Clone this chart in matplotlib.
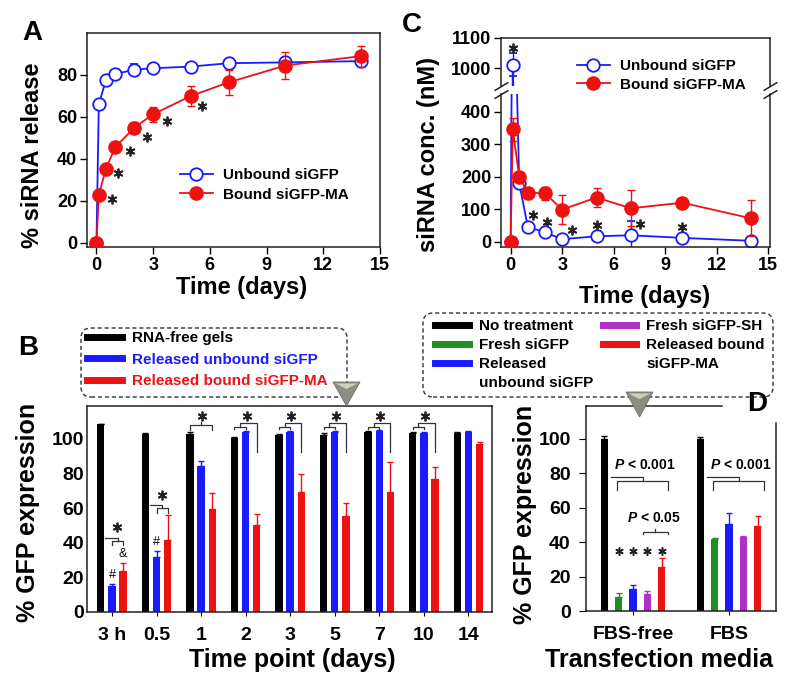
import numpy as np
import matplotlib
matplotlib.use('Agg')
import matplotlib.pyplot as plt
from matplotlib.patches import FancyBboxPatch, Polygon
from matplotlib.lines import Line2D
from matplotlib.transforms import IdentityTransform

plt.rcParams['font.family'] = ['Liberation Sans', 'DejaVu Sans']
plt.rcParams['font.weight'] = 'bold'
plt.rcParams['axes.linewidth'] = 1.1
plt.rcParams['axes.edgecolor'] = '#222222'
plt.rcParams['mathtext.fontset'] = 'custom'
plt.rcParams['mathtext.it'] = 'Liberation Sans:italic:bold'
plt.rcParams['mathtext.rm'] = 'Liberation Sans:bold'

W, H = 789, 682

# --- Panel A: cumulative siRNA release
t_days = [0, 0.125, 0.5, 1, 2, 3, 5, 7, 10, 14]
unbound_rel = [0, 66, 77.6, 80.5, 82.5, 83.2, 84, 85.6, 86, 86.6]
unbound_rel_err = [0, 1, 1.5, 1.5, 2.5, 2, 1.5, 1.5, 1.5, 1.5]
bound_rel = [0, 22.8, 35.4, 45.6, 54.9, 61.3, 70, 76.5, 84.5, 89]
bound_rel_err = [0, 1.5, 1.5, 2, 2.5, 3.5, 4.6, 6, 6.6, 5]
star_a_t = [0.83, 1.14, 1.76, 2.7, 3.74, 5.6]
star_a_y = [20.8, 33.3, 43.7, 50.6, 58, 65]

# --- Panel C: siRNA concentration (nM)
unbound_conc = [0, 1012, 180, 46, 29, 8, 17, 20, 12, 3]
unbound_conc_err = [0, 38, 10, 8, 6, 4, 5, 45, 5, 3]
bound_conc = [0, 345, 200, 151, 149, 99, 136, 103, 120, 72]
bound_conc_err = [0, 35, 15, 15, 20, 45, 30, 55, 8, 55]
star_c_t = [0.125, 1.32, 2.1, 3.55, 5.0, 7.53, 10.0]
star_c_y = [1068, 82, 61, 36, 51, 54, 46]

# --- Panel B: GFP expression by time point
b_labels = ['3 h', '0.5', '1', '2', '3', '5', '7', '10', '14']
rna_free = [108.5, 103, 103, 100.5, 102, 102.5, 104, 103.5, 103.5]
rna_free_err = [0, 0.5, 0.8, 0.5, 0.8, 0.8, 0.5, 0.5, 0.5]
rel_unbound = [15.2, 32, 84.5, 104, 104, 104.2, 104.8, 103.5, 104.2]
rel_unbound_err = [1, 3.3, 2.9, 0.5, 0.5, 0.5, 0.5, 0.5, 0.3]
rel_bound = [23.5, 41.5, 59.3, 50.2, 69.3, 55.4, 69.1, 76.7, 97]
rel_bound_err = [5, 14.5, 9.7, 6.4, 10.4, 7.4, 17.8, 6.9, 1]

# --- Panel D: GFP expression by transfection media
d_labels = ['FBS-free', 'FBS']
no_treat = [100, 100]
no_treat_err = [1.5, 1]
fresh_sigfp = [8.3, 42]
fresh_sigfp_err = [2, 0.5]
d_unbound = [13, 50.5]
d_unbound_err = [2, 6.5]
fresh_sh = [10, 43]
fresh_sh_err = [1.6, 0.5]
d_bound = [25.7, 49.5]
d_bound_err = [4.8, 5.5]

BLUE = '#1a1aff'
RED = '#ee1111'
GREEN = '#1f8f1f'
PURPLE = '#b030c8'
LINE = '#333333'


def fig_rect(l, t, r, b):
    return [l / W, 1 - b / H, (r - l) / W, (b - t) / H]


def fx(x):
    return x / W


def fy(y):
    return 1 - y / H


fig = plt.figure(figsize=(W / 100, H / 100), dpi=100)

# ---------------- A ----------------
axA = fig.add_axes(fig_rect(87, 33, 380, 247))
axA.errorbar(t_days, unbound_rel, yerr=unbound_rel_err, color=BLUE, marker='o', mfc='white',
             mec=BLUE, ms=9, mew=1.3, lw=1.3, capsize=3, elinewidth=1, zorder=2)
axA.errorbar(t_days, bound_rel, yerr=bound_rel_err, color=RED, marker='o', ms=9.5, lw=1.3,
             capsize=3, elinewidth=1, zorder=3)
axA.plot(star_a_t, star_a_y, ls='none', marker=(6, 2, 0), ms=7, mew=1.3, color='#222222')
axA.set_xlim(-0.5, 15)
axA.set_ylim(-2, 100)
axA.set_xticks(range(0, 16, 3))
axA.set_yticks(range(0, 81, 20))
axA.tick_params(direction='out', length=5, width=1, labelsize=13, pad=2)
hA = [Line2D([], [], color=BLUE, marker='o', mfc='white', mec=BLUE, ms=9, mew=1.3, lw=1.3),
      Line2D([], [], color=RED, marker='o', ms=9.5, lw=1.3)]
axA.legend(hA, ['Unbound siGFP', 'Bound siGFP-MA'], loc='upper left',
           bbox_to_anchor=(fx(180), fy(168)), bbox_transform=fig.transFigure, frameon=False,
           fontsize=11, handlelength=2.15, handletextpad=0.65, labelspacing=0.38,
           borderpad=0, borderaxespad=0)
fig.text(fx(33), fy(155), '% siRNA release', rotation=90, ha='center', va='center', fontsize=17)
fig.text(fx(242), fy(287), 'Time (days)', ha='center', va='center', fontsize=17)
fig.text(fx(32), fy(33), 'A', ha='center', va='center', fontsize=20)

# ---------------- C ----------------
axC_hi = fig.add_axes(fig_rect(501, 38, 770, 86))
axC_lo = fig.add_axes(fig_rect(501, 94, 770, 247))
for ax in (axC_hi, axC_lo):
    ax.errorbar(t_days, unbound_conc, yerr=unbound_conc_err, color=BLUE, marker='o', mfc='white',
                mec=BLUE, ms=9, mew=1.3, lw=1.3, capsize=3, elinewidth=1, zorder=2)
    ax.errorbar(t_days, bound_conc, yerr=bound_conc_err, color=RED, marker='o', ms=9.5, lw=1.3,
                capsize=3, elinewidth=1, zorder=3)
    ax.plot(star_c_t, star_c_y, ls='none', marker=(6, 2, 0), ms=7, mew=1.3, color='#222222')
    ax.set_xlim(-0.56, 15.1)
    ax.tick_params(direction='out', length=5, width=1, labelsize=13, pad=2)
axC_hi.set_ylim(941, 1100)
axC_lo.set_ylim(-16, 454)
axC_hi.set_yticks([1000, 1100])
axC_lo.set_yticks(range(0, 401, 100))
axC_lo.set_xticks(range(0, 16, 3))
axC_hi.spines['bottom'].set_visible(False)
axC_hi.tick_params(bottom=False, labelbottom=False)
axC_lo.spines['top'].set_visible(False)
brk = dict(marker=[(-1, -0.6), (1, 0.6)], markersize=10, linestyle='none', color='#222222',
           mec='#222222', mew=1.1, clip_on=False)
axC_hi.plot([0, 1], [0, 0], transform=axC_hi.transAxes, **brk)
axC_lo.plot([0, 1], [1, 1], transform=axC_lo.transAxes, **brk)
axC_hi.legend(hA, ['Unbound siGFP', 'Bound siGFP-MA'], loc='upper left',
              bbox_to_anchor=(fx(577), fy(59)), bbox_transform=fig.transFigure, frameon=False,
              fontsize=11, handlelength=2.15, handletextpad=0.65, labelspacing=0.3,
              borderpad=0, borderaxespad=0)
fig.text(fx(428), fy(155), 'siRNA conc. (nM)', rotation=90, ha='center', va='center', fontsize=17)
fig.text(fx(645), fy(296), 'Time (days)', ha='center', va='center', fontsize=17)
fig.text(fx(412), fy(25), 'C', ha='center', va='center', fontsize=20)

# ---------------- B ----------------
axB = fig.add_axes(fig_rect(87, 406, 492, 612))
xb = np.arange(len(b_labels))
ob, wb = 0.25, 0.165
zb = np.zeros(len(b_labels))
for dx, vals, errs, col in [(-ob, rna_free, rna_free_err, 'black'),
                            (0, rel_unbound, rel_unbound_err, BLUE),
                            (ob, rel_bound, rel_bound_err, RED)]:
    axB.bar(xb + dx, vals, wb, color=col, yerr=[zb, errs],
            error_kw=dict(ecolor=col, capsize=2.5, elinewidth=1, capthick=1))
axB.set_xlim(-0.56, 8.53)
axB.set_ylim(0, 119)
axB.set_xticks(xb)
axB.set_xticklabels(b_labels)
axB.set_yticks(range(0, 101, 20))
axB.tick_params(axis='y', length=0, labelsize=14, pad=2)
axB.tick_params(axis='x', direction='out', length=3, labelsize=14, pad=8)

bk = dict(color=LINE, lw=0.9)
# low brackets (3 h, 0.5 d)
for i, y in [(0, 43), (1, 61.8)]:
    mid = i + ob / 2
    axB.plot([i - 0.15, mid, mid], [y, y, y - 2], **bk)
    axB.plot([i, i, i + ob, i + ob], [y - 4.5, y - 2, y - 2, y - 4.5], **bk)
    axB.plot([mid - 0.01], [y + 6], ls='none', marker=(6, 2, 0), ms=7, mew=1.3, color='#222222')
# high brackets (day 1 - day 10)
for i in range(2, 8):
    if i == 2:
        axB.plot([i - ob, i - ob, i + ob, i + ob], [105, 108, 108, 105], **bk)
        axB.plot([i, i], [108, 110], **bk)
    else:
        m = i - ob / 2
        axB.plot([i - ob, i - ob, i, i], [105.5, 107, 107, 105.5], **bk)
        axB.plot([m, m, i + ob, i + ob], [107, 109, 109, 92.5], **bk)
    axB.plot([i + 0.02], [113], ls='none', marker=(6, 2, 0), ms=7, mew=1.3, color='#222222')
axB.text(0, 21.5, '#', ha='center', va='center', fontsize=9, fontweight='normal')
axB.text(ob, 33.5, '&', ha='center', va='center', fontsize=9, fontweight='normal')
axB.text(1, 40.5, '#', ha='center', va='center', fontsize=9, fontweight='normal')

hB = [Line2D([], [], color=c, lw=5) for c in ['black', BLUE, RED]]
legB = axB.legend(hB, ['RNA-free gels', 'Released unbound siGFP', 'Released bound siGFP-MA'],
                  loc='upper left', bbox_to_anchor=(fx(87), fy(331)), bbox_transform=fig.transFigure,
                  frameon=False, fontsize=11, handlelength=2.3, handletextpad=0.65,
                  labelspacing=0.5, borderpad=0, borderaxespad=0)
for txt, c in zip(legB.get_texts(), ['black', BLUE, RED]):
    txt.set_color(c)
fig.text(fx(28), fy(512), '% GFP expression', rotation=90, ha='center', va='center', fontsize=18)
fig.text(fx(292), fy(660), 'Time point (days)', ha='center', va='center', fontsize=18)
fig.text(fx(28), fy(348), 'B', ha='center', va='center', fontsize=20)

# ---------------- D ----------------
axD = fig.add_axes(fig_rect(586, 406, 776, 611))
xd = np.arange(len(d_labels))
od, wd = 0.15, 0.076
zd = np.zeros(len(d_labels))
for dx, vals, errs, col in [(-2 * od, no_treat, no_treat_err, 'black'),
                            (-od, fresh_sigfp, fresh_sigfp_err, GREEN),
                            (0, d_unbound, d_unbound_err, BLUE),
                            (od, fresh_sh, fresh_sh_err, PURPLE),
                            (2 * od, d_bound, d_bound_err, RED)]:
    axD.bar(xd + dx, vals, wd, color=col, yerr=[zd, errs],
            error_kw=dict(ecolor=col, capsize=2.5, elinewidth=1, capthick=1))
axD.set_xlim(-0.49, 1.49)
axD.set_ylim(0, 119)
axD.set_xticks(xd)
axD.set_xticklabels(d_labels)
axD.set_yticks(range(0, 101, 20))
axD.tick_params(axis='y', direction='out', length=5, labelsize=14, pad=6)
axD.tick_params(axis='x', direction='out', length=3, labelsize=14, pad=8)
axD.spines['top'].set_visible(False)
axD.spines['right'].set_visible(False)
axD.plot([0, 0.714], [1, 1], transform=axD.transAxes, clip_on=False, color='#222222', lw=1.1)
axD.plot([1, 1], [0, 0.917], transform=axD.transAxes, clip_on=False, color='#222222', lw=1.1)
for g in xd:
    axD.plot([g - 0.23, g + 0.1, g + 0.1], [78, 78, 75.3], **bk)
    axD.plot([g - 0.17, g - 0.17, g + 0.36, g + 0.36], [70.5, 75.3, 75.3, 70.5], **bk)
    axD.text(g + 0.12, 84.5, '$P$ < 0.001', ha='center', va='center', fontsize=10)
axD.plot([0.1, 0.1, 0.36, 0.36], [44.5, 46, 46, 44.5], **bk)
axD.plot([0.23, 0.23], [46, 47.5], **bk)
axD.text(0.22, 54, '$P$ < 0.05', ha='center', va='center', fontsize=10)
axD.plot([-od, 0, od, 2 * od], [34.7] * 4, ls='none', marker=(6, 2, 0), ms=6, mew=1.1,
         color='#222222')

hD = [Line2D([], [], color='black', lw=5), Line2D([], [], color=GREEN, lw=5),
      Line2D([], [], color=BLUE, lw=5), Line2D([], [], color='none', lw=5),
      Line2D([], [], color=PURPLE, lw=5), Line2D([], [], color=RED, lw=5),
      Line2D([], [], color='none', lw=5)]
axD.legend(hD, ['No treatment', 'Fresh siGFP', 'Released', 'unbound siGFP',
                'Fresh siGFP-SH', 'Released bound', 'siGFP-MA'],
           ncol=2, loc='upper left', bbox_to_anchor=(fx(435), fy(319)),
           bbox_transform=fig.transFigure, frameon=False, fontsize=11, handlelength=2.2,
           handletextpad=0.65, labelspacing=0.33, columnspacing=0.65, borderpad=0,
           borderaxespad=0)
fig.text(fx(525), fy(514), '% GFP expression', rotation=90, ha='center', va='center', fontsize=18)
fig.text(fx(659), fy(660), 'Transfection media', ha='center', va='center', fontsize=18)
fig.text(fx(757), fy(404), 'D', ha='center', va='center', fontsize=20)

# dashed legend boxes and pointer triangles
for x0, y0, x1, y1 in [(81, 328, 347, 397), (423, 313, 773, 397)]:
    fig.add_artist(FancyBboxPatch((x0, H - y1), x1 - x0, y1 - y0,
                                  boxstyle='round,pad=0,rounding_size=10',
                                  transform=IdentityTransform(), fill=False,
                                  ec='#333333', lw=1, ls=(0, (3, 2))))
for cx, top, tip in [(346.5, 382, 406), (639.5, 392, 417)]:
    fig.add_artist(Polygon([(cx - 13.5, H - top), (cx + 13.5, H - top), (cx, H - tip)],
                           closed=True, transform=IdentityTransform(), fc='#8d8d80',
                           ec='#6f6f66', lw=0.6, zorder=10))
    fig.add_artist(Polygon([(cx - 11, H - top - 1.5), (cx + 11, H - top - 1.5), (cx, H - top - 7)],
                           closed=True, transform=IdentityTransform(), fc='#cfcfc2',
                           ec='none', zorder=11))

fig.savefig('out.png', dpi=100)
